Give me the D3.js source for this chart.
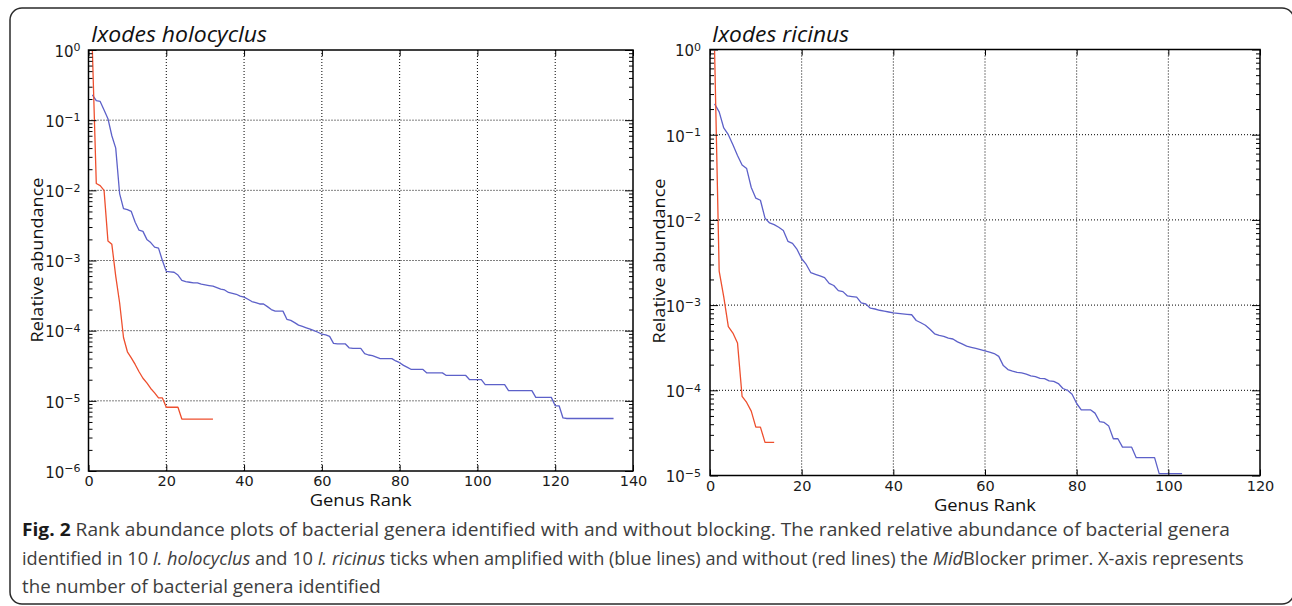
<!DOCTYPE html>
<html><head><meta charset="utf-8">
<script src="https://cdn.jsdelivr.net/npm/d3@7"></script>
<style>body{margin:0;background:#fff}svg{display:block}</style>
</head><body><svg id="c" width="1292" height="606"></svg>
<script>
// ---------- DATA ----------
const holoTitle = "Ixodes holocyclus";
const ricinusTitle = "Ixodes ricinus";
const holoXTicks = [0,20,40,60,80,100,120,140];
const ricinusXTicks = [0,20,40,60,80,100,120];
const holoYExp = [0,-1,-2,-3,-4,-5,-6];
const ricinusYExp = [0,-1,-2,-3,-4,-5];

// relative abundance by genus rank (rank = index + 1)
const holoWithBlocker = [
 0.23,0.19,0.185,0.14,0.105,0.06,0.04,0.009,0.0055,0.0053,
 0.005,0.0035,0.0027,0.0026,0.002,0.0018,0.00155,0.0015,0.001,0.0007,
 0.00069,0.00068,0.00062,0.00052,0.0005,0.00049,0.00048,0.00048,0.00046,0.00045,
 0.00044,0.00043,0.00041,0.00039,0.00038,0.00035,0.00034,0.00033,0.00031,0.0003,
 0.00028,0.00026,0.00025,0.00024,0.00024,0.00022,0.0002,0.00019,0.00019,0.00019,
 0.000145,0.00014,0.00013,0.00012,0.000115,0.00011,0.000105,0.0001,0.000095,0.000089,
 0.000087,0.000083,0.000066,0.000065,0.000065,0.000065,0.000057,0.000056,0.000056,0.000056,
 0.000047,0.000045,0.000044,0.000042,0.00004,0.00004,0.00004,0.00004,0.000037,0.000035,
 0.000032,0.00003,0.000028,0.000028,0.000028,0.000028,0.000025,0.000025,0.000025,0.000025,
 0.000025,0.000023,0.000023,0.000023,0.000023,0.000023,0.000023,0.00002,0.00002,0.00002,
 0.00002,0.000017,0.000017,0.000017,0.000017,0.000017,0.000017,0.000014,0.000014,0.000014,
 0.000014,0.000014,0.000014,0.000014,0.0000112,0.0000112,0.0000112,0.0000112,0.0000112,0.0000085,
 0.0000085,0.0000057,0.0000056,0.0000056,0.0000056,0.0000056,0.0000056,0.0000056,0.0000056,0.0000056,
 0.0000056,0.0000056,0.0000056,0.0000056,0.0000056
];
const holoWithoutBlocker = [
 0.97,0.0125,0.0117,0.01,0.0019,0.0017,0.0006,0.00025,0.00008,0.00005,
 0.000041,0.000033,0.000026,0.000021,0.000018,0.000015,0.000013,0.000011,0.000011,0.0000081,
 0.0000081,0.0000081,0.0000081,0.0000055,0.0000055,0.0000055,0.0000055,0.0000055,0.0000055,0.0000055,
 0.0000055,0.0000055
];
const ricinusWithBlocker = [
 0.23,0.185,0.12,0.1,0.076,0.057,0.044,0.04,0.024,0.018,
 0.017,0.0105,0.0092,0.0088,0.0082,0.0075,0.0056,0.0053,0.0045,0.0035,
 0.003,0.0024,0.0023,0.0022,0.0021,0.0018,0.0017,0.00148,0.00144,0.00128,
 0.00126,0.00124,0.00106,0.00103,0.00092,0.0009,0.00087,0.00085,0.00083,0.00081,
 0.0008,0.00079,0.00078,0.00077,0.00066,0.00062,0.00058,0.00052,0.00046,0.00044,
 0.00043,0.00041,0.0004,0.00037,0.00035,0.00033,0.00032,0.00031,0.0003,0.00029,
 0.00028,0.00027,0.00025,0.000195,0.000175,0.000168,0.000162,0.00016,0.000155,0.000148,
 0.000145,0.000138,0.000137,0.000129,0.000127,0.00012,0.000105,0.0001,0.00009,0.00007,
 0.000059,0.000059,0.000059,0.000054,0.000043,0.000042,0.000038,0.000027,0.000027,0.0000215,
 0.0000215,0.0000215,0.0000162,0.0000162,0.0000162,0.0000162,0.0000162,0.0000105,0.0000105,0.0000105,
 0.0000105,0.0000105,0.0000105
];
const ricinusWithoutBlocker = [
 0.97,0.0025,0.00125,0.00056,0.00047,0.00036,0.000085,0.000072,0.000057,0.000037,
 0.000037,0.0000245,0.0000245,0.0000245
];

const captionLines = [
 [{t:"Fig. 2",b:1},{t:" Rank abundance plots of bacterial genera identified with and without blocking. The ranked relative abundance of bacterial genera"}],
 [{t:"identified in 10 "},{t:"I. holocyclus",i:1},{t:" and 10 "},{t:"I. ricinus",i:1},{t:" ticks when amplified with (blue lines) and without (red lines) the "},{t:"Mid",i:1},{t:"Blocker primer. X-axis represents"}],
 [{t:"the number of bacterial genera identified"}]
];

// ---------- DRAW ----------
const svg = d3.select("#c");
const RED = "#ee4f2e", BLUE = "#5d61c9";
const SANS = "'Open Sans', 'DejaVu Sans', sans-serif";
const TICKF = "'DejaVu Sans', sans-serif";

svg.append("rect").attr("x",10).attr("y",8).attr("width",1284).attr("height",596)
  .attr("rx",12).attr("fill","none").attr("stroke","#2a2a2a").attr("stroke-width",1.5);

const sup = {"0":"0","-1":"−1","-2":"−2","-3":"−3","-4":"−4","-5":"−5","-6":"−6"};

function panel(cfg){
  const x = d3.scaleLinear().domain([0,cfg.xMax]).range([cfg.x0,cfg.x1]);
  const y = d3.scaleLog().domain([Math.pow(10,cfg.yExp[cfg.yExp.length-1]),1]).range([cfg.y1,cfg.y0]);
  const g = svg.append("g");
  const id = "clip"+cfg.id;
  svg.append("clipPath").attr("id",id).append("rect")
    .attr("x",cfg.x0).attr("y",cfg.y0).attr("width",cfg.x1-cfg.x0).attr("height",cfg.y1-cfg.y0);

  const majors = cfg.yExp.map(e=>Math.pow(10,e));
  const minors = y.ticks().filter(v=>!majors.some(m=>Math.abs(m-v)/m<1e-6));

  // grid
  g.append("g").selectAll("line").data(cfg.xTicks.slice(1,-1)).join("line")
    .attr("x1",d=>x(d)).attr("x2",d=>x(d)).attr("y1",cfg.y0).attr("y2",cfg.y1)
    .attr("stroke","#000").attr("stroke-width",1).attr("stroke-dasharray","1,2");
  g.append("g").selectAll("line").data(majors.slice(1,-1)).join("line")
    .attr("x1",cfg.x0).attr("x2",cfg.x1).attr("y1",d=>y(d)).attr("y2",d=>y(d))
    .attr("stroke","#000").attr("stroke-width",1).attr("stroke-dasharray","1,2");

  // lines
  const line = d3.line().x((d,i)=>x(i+1)).y(d=>y(d));
  const lg = g.append("g").attr("clip-path",`url(#${id})`);
  lg.append("path").datum(cfg.blue).attr("d",line).attr("fill","none")
    .attr("stroke",BLUE).attr("stroke-width",1.3).attr("stroke-linejoin","round");
  lg.append("path").datum(cfg.red).attr("d",line).attr("fill","none")
    .attr("stroke",RED).attr("stroke-width",1.3).attr("stroke-linejoin","round");

  // axes
  const xb = g.append("g").attr("transform",`translate(0,${cfg.y1})`)
    .call(d3.axisBottom(x).tickValues(cfg.xTicks).tickSizeInner(-6).tickSizeOuter(0).tickPadding(5).tickFormat(d3.format("d")));
  xb.select(".domain").remove();
  xb.selectAll("text").attr("font-family",TICKF).attr("font-size",14.5).attr("fill","#1a1a1a");
  const xt = g.append("g").attr("transform",`translate(0,${cfg.y0})`)
    .call(d3.axisTop(x).tickValues(cfg.xTicks).tickSizeInner(-6).tickSizeOuter(0).tickFormat(""));
  xt.select(".domain").remove();

  const yl = g.append("g").attr("transform",`translate(${cfg.x0},0)`)
    .call(d3.axisLeft(y).tickValues(majors).tickSizeInner(-8).tickSizeOuter(0).tickPadding(cfg.pad).tickFormat(()=>""));
  yl.select(".domain").remove();
  yl.selectAll(".tick text").each(function(d,i){
    const t = d3.select(this).attr("font-family",TICKF).attr("font-size",15).attr("fill","#1a1a1a").attr("dy","0.42em");
    t.append("tspan").text("10");
    t.append("tspan").attr("dy","-0.5em").attr("font-size",11).text(sup[String(cfg.yExp[i])]);
  });
  const ylm = g.append("g").attr("transform",`translate(${cfg.x0},0)`)
    .call(d3.axisLeft(y).tickValues(minors).tickSizeInner(-4).tickSizeOuter(0).tickFormat(""));
  ylm.select(".domain").remove();
  const yr = g.append("g").attr("transform",`translate(${cfg.x1},0)`)
    .call(d3.axisRight(y).tickValues(majors).tickSizeInner(-8).tickSizeOuter(0).tickFormat(""));
  yr.select(".domain").remove();
  const yrm = g.append("g").attr("transform",`translate(${cfg.x1},0)`)
    .call(d3.axisRight(y).tickValues(minors).tickSizeInner(-4).tickSizeOuter(0).tickFormat(""));
  yrm.select(".domain").remove();
  g.selectAll(".tick line").attr("stroke","#000").attr("stroke-width",1);

  g.append("rect").attr("x",cfg.x0).attr("y",cfg.y0).attr("width",cfg.x1-cfg.x0).attr("height",cfg.y1-cfg.y0)
    .attr("fill","none").attr("stroke","#000").attr("stroke-width",1.5);

  // titles and labels
  g.append("text").attr("x",cfg.titleX).attr("y",42).attr("font-family",SANS).attr("font-style","italic")
    .attr("font-size",21).attr("fill","#111").attr("textLength",cfg.titleLen).attr("lengthAdjust","spacingAndGlyphs").text(cfg.title);
  g.append("text").attr("transform",`translate(${cfg.ylabX},${cfg.ylabY}) rotate(-90)`).attr("text-anchor","middle")
    .attr("font-family",SANS).attr("font-size",17).attr("fill","#111").attr("textLength",165).attr("lengthAdjust","spacingAndGlyphs").text("Relative abundance");
  g.append("text").attr("x",(cfg.x0+cfg.x1)/2).attr("y",cfg.y1+35).attr("text-anchor","middle")
    .attr("font-family",SANS).attr("font-size",17).attr("fill","#111").attr("textLength",102).attr("lengthAdjust","spacingAndGlyphs").text("Genus Rank");
}

panel({id:"h",x0:88.5,x1:633,y0:50,y1:471,xMax:140,yExp:holoYExp,xTicks:holoXTicks,blue:holoWithBlocker,red:holoWithoutBlocker,
  pad:8,title:holoTitle,titleX:91,titleLen:176,ylabX:43,ylabY:260});
panel({id:"r",x0:710,x1:1260,y0:49.5,y1:475.5,xMax:120,yExp:ricinusYExp,xTicks:ricinusXTicks,blue:ricinusWithBlocker,red:ricinusWithoutBlocker,
  pad:9,title:ricinusTitle,titleX:712,titleLen:137,ylabX:665,ylabY:261});

// caption: natural text, horizontally scaled to the reference line widths
const capW = [1209,1223,359];
const capY = [536,565,593];
captionLines.forEach((parts,li)=>{
  const t = svg.append("text").attr("x",0).attr("y",0).attr("font-family",SANS).attr("font-size",18.5)
    .attr("fill","#3d3d3d");
  parts.forEach(p=>{
    const s = t.append("tspan").text(p.t);
    if(p.b) s.attr("font-weight","bold").attr("fill","#1a1a1a");
    if(p.i) s.attr("font-style","italic");
  });
  const w = t.node().getComputedTextLength();
  const sx = w > 0 ? capW[li]/w : 1;
  t.attr("transform",`translate(22,${capY[li]}) scale(${sx},1)`);
});
</script></body></html>
